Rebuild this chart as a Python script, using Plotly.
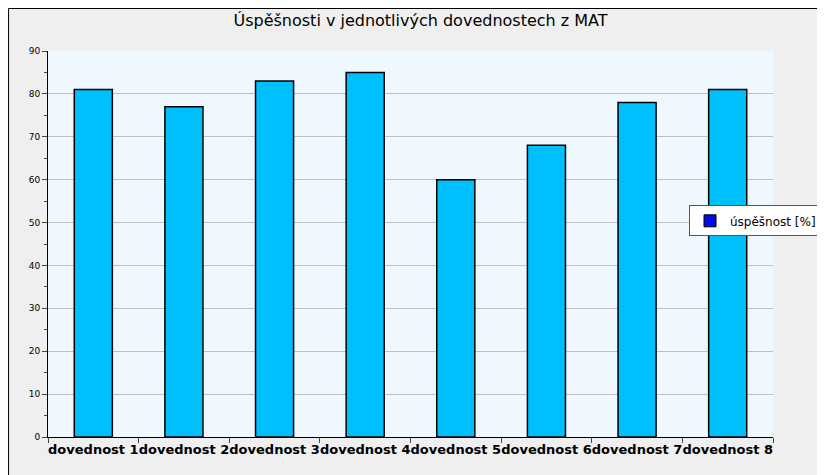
import plotly.graph_objects as go

categories = [f"dovednost {i}" for i in range(1, 9)]
values = [81, 77, 83, 85, 60, 68, 78, 81]
series_name = "úspěšnost [%]"

L, R, T, B = 40, 59, 43, 46
W, H = 825, 475
pw, ph = W - L - R, H - T - B

fig = go.Figure()
fig.add_bar(x=categories, y=values, width=0.42, showlegend=False,
            marker=dict(color="#00bfff", line=dict(color="black", width=1.5)))
fig.add_bar(x=[categories[0]], y=[None], name=series_name, marker=dict(color="#0010e0", line=dict(color="black", width=1)))
fig.update_layout(
    width=W, height=H, paper_bgcolor="#efefef", plot_bgcolor="#f0f8ff",
    margin=dict(l=L, r=R, t=T, b=B),
    title=dict(text="Úspěšnosti v jednotlivých dovednostech z MAT", x=0.5, y=0.985,
               font=dict(family="DejaVu Sans", size=16, color="black")),
    font=dict(family="DejaVu Sans", size=10, color="black"),
    barmode="overlay",
    legend=dict(x=1 + (687 - L - pw - 6) / pw, y=0.56, xanchor="left", yanchor="middle", bgcolor="white",
                bordercolor="#555", borderwidth=1, font=dict(size=12), itemwidth=30,
                tracegroupgap=0),
    shapes=[dict(type="rect", xref="paper", yref="paper", x0=-(L - 0.5) / pw, x1=1 + (R - 7) / pw,
                 y0=-(B - 7) / ph, y1=1 + (T - 0.5) / ph,
                 line=dict(color="black", width=1), fillcolor="rgba(0,0,0,0)")],
)
fig.update_yaxes(range=[0, 90], dtick=10, showgrid=True, gridcolor="#c0c0c0",
                 showline=True, linecolor="black", ticks="outside", ticklen=5,
                 minor=dict(dtick=5, ticks="outside", ticklen=3, showgrid=False),
                 tickfont=dict(size=9), zeroline=False)
fig.update_xaxes(showline=True, linecolor="black", ticks="outside", tickson="boundaries",
                 ticklen=5, tickfont=dict(size=13, family="DejaVu Sans", weight="bold"), tickangle=0)
fig.write_html("out.html")
